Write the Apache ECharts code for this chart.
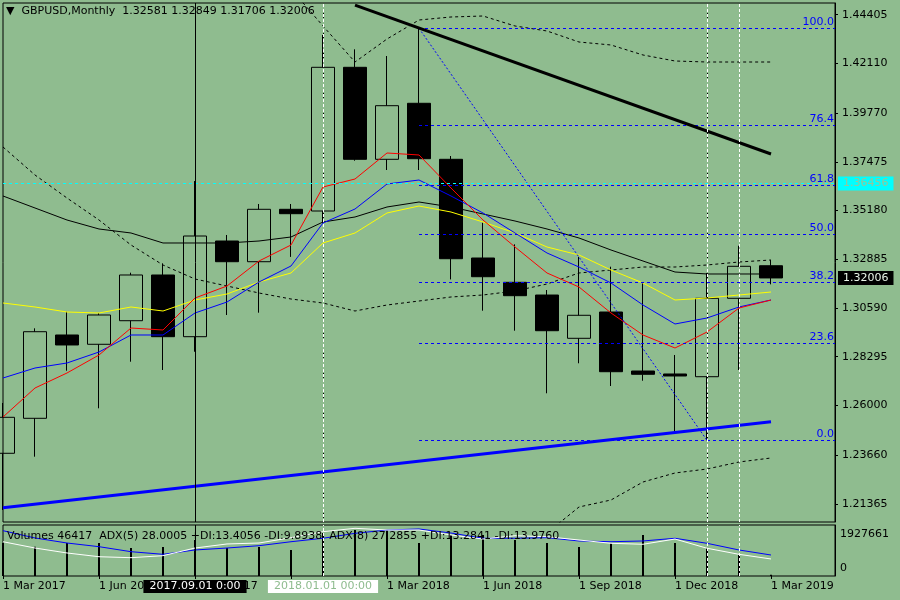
<!DOCTYPE html>
<html>
<head>
<meta charset="utf-8">
<script src="https://cdn.jsdelivr.net/npm/echarts@6/dist/echarts.min.js"></script>
<style>
  html, body { margin: 0; height: 100%; background: #8fbc8f; }
  #chart { width: 900px; height: 600px; }
</style>
</head>
<body>
<div id="chart"></div>
<script>
var FONT = 'DejaVu Sans';

// month ticks (category axis), 2 empty months on the right
var months = ['1 Mar 2017','1 Apr 2017','1 May 2017','1 Jun 2017','1 Jul 2017','1 Aug 2017',
  '1 Sep 2017','1 Oct 2017','1 Nov 2017','1 Dec 2017','1 Jan 2018','1 Feb 2018','1 Mar 2018',
  '1 Apr 2018','1 May 2018','1 Jun 2018','1 Jul 2018','1 Aug 2018','1 Sep 2018','1 Oct 2018',
  '1 Nov 2018','1 Dec 2018','1 Jan 2019','1 Feb 2019','1 Mar 2019','1 Apr 2019','1 May 2019'];

// open, close, low, high
var candles = [
  [1.23747, 1.25442, 1.21076, 1.26116],
  [1.25395, 1.29474, 1.23587, 1.29634],
  [1.29319, 1.28849, 1.27637, 1.30416],
  [1.28881, 1.30261, 1.25866, 1.30355],
  [1.29992, 1.32145, 1.28061, 1.32253],
  [1.32145, 1.29239, 1.27670, 1.32695],
  [1.29239, 1.33981, 1.28530, 1.36570],
  [1.33746, 1.32771, 1.30260, 1.34029],
  [1.32771, 1.35239, 1.30369, 1.35489],
  [1.35239, 1.35032, 1.32997, 1.35489],
  [1.35159, 1.41927, 1.34600, 1.43450],
  [1.41927, 1.37594, 1.37528, 1.42775],
  [1.37594, 1.40119, 1.37090, 1.42459],
  [1.40232, 1.37622, 1.37090, 1.43765],
  [1.37594, 1.32912, 1.31936, 1.37749],
  [1.32945, 1.32064, 1.30463, 1.34608],
  [1.31801, 1.31170, 1.29521, 1.33590],
  [1.31202, 1.29521, 1.26573, 1.31438],
  [1.29163, 1.30247, 1.27986, 1.32997],
  [1.30402, 1.27590, 1.26917, 1.32536],
  [1.27623, 1.27468, 1.27166, 1.31753],
  [1.27482, 1.27388, 1.24764, 1.28377],
  [1.27354, 1.31047, 1.24359, 1.32239],
  [1.31047, 1.32554, 1.27670, 1.33524],
  [1.32581, 1.32006, 1.31706, 1.32849]
];

var volumes = [1247000, 1107000, 1247000, 1247000, 1058000, 1096000, 1360000, 1058000,
  1096000, 982000, 1625000, 1738000, 1738000, 1247000, 1549000, 1549000, 1360000, 1247000,
  1096000, 1247000, 1549000, 1247000, 1058000, 793000, 46417];

var maRed = [1.25456, 1.26822, 1.27529, 1.28377, 1.29648, 1.29554, 1.31061, 1.31627, 1.32804,
  1.33558, 1.36289, 1.36666, 1.37891, 1.37797, 1.36242, 1.34735, 1.33463, 1.32239, 1.31579,
  1.30355, 1.29319, 1.28706, 1.29460, 1.30590, 1.30967];
var maBlue = [1.27293, 1.27764, 1.28000, 1.28518, 1.29319, 1.29319, 1.30355, 1.30873, 1.31815,
  1.32569, 1.34594, 1.35253, 1.36431, 1.36619, 1.35866, 1.35065, 1.34123, 1.33181, 1.32521,
  1.31768, 1.30732, 1.29837, 1.30120, 1.30638, 1.30967];
var maYellow = [1.30826, 1.30638, 1.30402, 1.30355, 1.30638, 1.30449, 1.30967, 1.31250, 1.31815,
  1.32239, 1.33652, 1.34123, 1.35065, 1.35394, 1.35112, 1.34641, 1.34123, 1.33463, 1.33087,
  1.32380, 1.31768, 1.30967, 1.31061, 1.31203, 1.31344];
var maSlow = [1.35866, 1.35301, 1.34735, 1.34312, 1.34123, 1.33652, 1.33652, 1.33652, 1.33746,
  1.33935, 1.34641, 1.34877, 1.35348, 1.35583, 1.35348, 1.35018, 1.34688, 1.34312, 1.33888,
  1.33322, 1.32804, 1.32286, 1.32192, 1.32192, 1.32192];

var bbUpper = [null, null, null, null, null, null, null, null, null,
  1.45615, 1.43873, 1.42177, 1.43260, 1.44155, 1.44297, 1.44344, 1.43873, 1.43637, 1.43119,
  1.42978, 1.42507, 1.42224, 1.42177, 1.42177, 1.42177];
var bbMiddle = [1.38174, 1.36855, 1.35771, 1.34735, 1.33558, 1.32616, 1.31956, 1.31627, 1.31297,
  1.31014, 1.30826, 1.30449, 1.30732, 1.30920, 1.31109, 1.31203, 1.31391, 1.31721, 1.32239,
  1.32380, 1.32521, 1.32521, 1.32616, 1.32757, 1.32851];
var bbLower = [null, null, null, null, null, null, null, null, null, null, null, null, null, null,
  null, null, 1.18910, 1.19993, 1.21218, 1.21547, 1.22395, 1.22819, 1.23007, 1.23337, 1.23526];

var adxBlue = [60.4, 50.7, 44.0, 39.1, 32.4, 28.9, 34.7, 37.3, 40.4, 45.7, 50.3, 56.9, 61.3,
  62.7, 57.3, 50.3, 50.3, 51.1, 46.7, 45.7, 46.7, 50.3, 43.6, 34.7, 28.0];
var adxWhite = [45.7, 37.3, 30.7, 25.7, 24.4, 27.1, 37.3, 42.7, 44.0, 51.1, 59.1, 63.6, 61.3,
  61.3, 54.7, 49.3, 53.7, 52.4, 48.0, 43.6, 42.3, 49.3, 37.0, 28.9, 22.7];

var priceTicks = [1.21365, 1.23660, 1.26000, 1.28295, 1.30590, 1.32885, 1.35180, 1.37475,
  1.39770, 1.42110, 1.44405];
var volumeTicks = [0, 1927661];

// chart objects
var fibLevels = [0, 23.6, 38.2, 50, 61.8, 76.4, 100];
var fibHigh = 1.43765, fibLow = 1.24359;
var fibFrom = 13, fibTo = 22;
var hLinePrice = 1.36456;
var resistLine = [[11, 1.44860], [24, 1.37844]];
var supportLine = [[0, 1.21185], [24, 1.25235]];
var vLineLabels = {6: '2017.09.01 0:00', 10: '2018.01.01 00:00'};

var last = candles[candles.length - 1];
var header = '\u25BC  GBPUSD,Monthly  ' + [last[0], last[3], last[2], last[1]].map(function (v) {
  return v.toFixed(5);
}).join(' ');
var subHeader = 'Volumes ' + volumes[volumes.length - 1] +
  '  ADX(5) 28.0005 +DI:13.4056 -DI:9.8938  ADX(8) 27.2855 +DI:13.2841 -DI:13.9760';

var txt = { fontFamily: FONT, fontSize: 11, color: '#000' };
function lbl(extra) { return Object.assign({ fontFamily: FONT, fontSize: 11 }, extra); }

// fibonacci levels: [start index, price, level]
var fibData = fibLevels.map(function (lv) {
  return [fibFrom, fibLow + (fibHigh - fibLow) * lv / 100, lv];
});

var mainMarks = [];
mainMarks.push([
  { coord: [months[fibFrom], fibHigh], lineStyle: { color: '#0000ff', type: [2, 2], width: 1 } },
  { coord: [months[fibTo], fibLow] }
]);
mainMarks.push([
  { coord: [months[resistLine[0][0]], resistLine[0][1]], lineStyle: { color: '#000', type: 'solid', width: 3 } },
  { coord: [months[resistLine[1][0]], resistLine[1][1]] }
]);
mainMarks.push([
  { coord: [months[supportLine[0][0]], supportLine[0][1]], lineStyle: { color: '#0000ff', type: 'solid', width: 3 } },
  { coord: [months[supportLine[1][0]], supportLine[1][1]] }
]);
mainMarks.push({ yAxis: hLinePrice, lineStyle: { color: '#00ffff', type: [3, 3], width: 1 },
  label: lbl({ show: true, position: 'end', formatter: hLinePrice.toFixed(5), backgroundColor: '#00ffff',
    color: '#98c498', padding: [2, 5, 1, 5], distance: 3 }) });
mainMarks.push({ yAxis: last[1], lineStyle: { color: 'rgba(0,0,0,0)', width: 1 },
  label: lbl({ show: true, position: 'end', formatter: last[1].toFixed(5), backgroundColor: '#000',
    color: '#e8f4e8', padding: [2, 5, 1, 5], distance: 3 }) });
// vertical lines in the price pane
mainMarks.push({ xAxis: months[6], lineStyle: { color: '#000', type: 'solid', width: 1 } });
[10, 22].forEach(function (i) {
  mainMarks.push({ xAxis: months[i], lineStyle: { color: '#000', type: [1, 3], width: 1 } });
});
[10, 22, 23].forEach(function (i) {
  mainMarks.push({ xAxis: months[i], lineStyle: { color: '#fff', type: [3, 2], width: 1 } });
});

var subMarks = [
  { xAxis: months[6], lineStyle: { color: '#000', type: 'solid', width: 1 },
    label: lbl({ show: true, position: 'start', formatter: vLineLabels[6], backgroundColor: '#000',
      color: '#fff', padding: [1, 6, 1, 6], distance: 4 }) },
  { xAxis: months[10], lineStyle: { color: '#fff', type: [3, 2], width: 1 },
    label: lbl({ show: true, position: 'start', formatter: vLineLabels[10], backgroundColor: '#fff',
      color: '#8fbc8f', padding: [1, 6, 1, 6], distance: 4 }) },
  { xAxis: months[22], lineStyle: { color: '#fff', type: [3, 2], width: 1 } },
  { xAxis: months[23], lineStyle: { color: '#fff', type: [3, 2], width: 1 } }
];

function maLine(name, data, color, dashed) {
  return {
    name: name, type: 'line', data: data, xAxisIndex: 0, yAxisIndex: 0,
    symbol: 'none', z: 3, silent: true,
    lineStyle: { color: color, width: 1, type: dashed ? [3, 3] : 'solid' }
  };
}

// horizontal fib level + its label, snapped to the pixel grid so the dashes stay blue
function renderFib(params, api) {
  var price = api.value(1);
  var lv = api.value(2);
  var a = api.coord([api.value(0), price]);
  var b = api.coord([months.length - 1, price]);
  var y = Math.round(a[1] - 0.5) + 0.5;
  return {
    type: 'group',
    children: [
      { type: 'line', shape: { x1: a[0], y1: y, x2: b[0], y2: y },
        style: { stroke: '#0000ff', lineWidth: 1, lineDash: [3, 3] } },
      { type: 'text', x: b[0] - 1, y: y - 1,
        style: { text: lv.toFixed(1), fill: '#0000ff', font: '11px "DejaVu Sans"', align: 'right', verticalAlign: 'bottom' } }
    ]
  };
}

var myChart = echarts.init(document.getElementById('chart'));
var option = {
  backgroundColor: '#8fbc8f',
  animation: false,
  title: [
    { text: header, left: 6, top: 6, padding: 0, textStyle: Object.assign({ fontWeight: 'normal' }, txt) },
    { text: subHeader, left: 7, top: 531, padding: 0, textStyle: Object.assign({ fontWeight: 'normal' }, txt) }
  ],
  grid: [
    { left: 3, top: 3, width: 832, height: 519, show: true, borderColor: '#000', borderWidth: 1, backgroundColor: 'transparent' },
    { left: 3, top: 525, width: 832, height: 51, show: true, borderColor: '#000', borderWidth: 1, backgroundColor: 'transparent' }
  ],
  xAxis: [
    { type: 'category', gridIndex: 0, data: months, boundaryGap: false,
      axisLine: { show: false }, axisTick: { show: false }, axisLabel: { show: false } },
    { type: 'category', gridIndex: 1, data: months, boundaryGap: false,
      axisLine: { show: false },
      axisTick: { show: true, interval: 2, length: 3, lineStyle: { color: '#000' } },
      axisLabel: Object.assign({ interval: 2, align: 'left', margin: 5 }, txt) }
  ],
  yAxis: [
    { type: 'value', gridIndex: 0, position: 'right', min: 1.20511, max: 1.44956,
      splitLine: { show: false },
      axisLine: { show: true, lineStyle: { color: '#000' } },
      axisTick: { show: true, length: 3, customValues: priceTicks, lineStyle: { color: '#000' } },
      axisLabel: Object.assign({ customValues: priceTicks, margin: 7,
        formatter: function (v) { return v.toFixed(5); } }, txt) },
    { type: 'value', gridIndex: 1, position: 'right', min: 0, max: volumeTicks[1],
      splitLine: { show: false },
      axisLine: { show: true, lineStyle: { color: '#000' } },
      axisTick: { show: false },
      axisLabel: Object.assign({ customValues: volumeTicks, margin: 5,
        formatter: function (v) { return v === 0 ? '{lo|0}' : '{hi|' + v + '}'; },
        rich: {
          lo: lbl({ color: '#000', padding: [0, 0, 16, 0] }),
          hi: lbl({ color: '#000', padding: [18, 0, 0, 0] })
        } }, txt) },
    { type: 'value', gridIndex: 1, min: 0, max: 68, show: false }
  ],
  series: [
    { name: 'GBPUSD', type: 'candlestick', xAxisIndex: 0, yAxisIndex: 0, data: candles,
      barWidth: 23, z: 2, silent: true,
      itemStyle: { color: 'rgba(0,0,0,0)', color0: '#000', borderColor: '#000', borderColor0: '#000', borderWidth: 1 },
      markLine: { symbol: ['none', 'none'], silent: true, animation: false, precision: 6,
        label: { show: false }, data: mainMarks } },
    { name: 'Fibo', type: 'custom', xAxisIndex: 0, yAxisIndex: 0, data: fibData,
      encode: { x: 0, y: 1 }, renderItem: renderFib, silent: true, z: 4 },
    maLine('BB upper', bbUpper, '#000', true),
    maLine('BB middle', bbMiddle, '#000', true),
    maLine('BB lower', bbLower, '#000', true),
    maLine('MA slow', maSlow, '#000', false),
    maLine('MA yellow', maYellow, '#ffff00', false),
    maLine('MA blue', maBlue, '#0000ff', false),
    maLine('MA red', maRed, '#ff0000', false),
    { name: 'Volumes', type: 'bar', xAxisIndex: 1, yAxisIndex: 1, data: volumes, barWidth: 2,
      itemStyle: { color: '#000' }, silent: true,
      markLine: { symbol: ['none', 'none'], silent: true, animation: false, precision: 6,
        label: { show: false }, data: subMarks } },
    { name: 'ADX(5)', type: 'line', xAxisIndex: 1, yAxisIndex: 2, data: adxBlue, symbol: 'none',
      silent: true, lineStyle: { color: '#0000ff', width: 1 } },
    { name: 'ADX(8)', type: 'line', xAxisIndex: 1, yAxisIndex: 2, data: adxWhite, symbol: 'none',
      silent: true, lineStyle: { color: '#ffffff', width: 1 } }
  ]
};
myChart.setOption(option);
</script>
</body>
</html>
